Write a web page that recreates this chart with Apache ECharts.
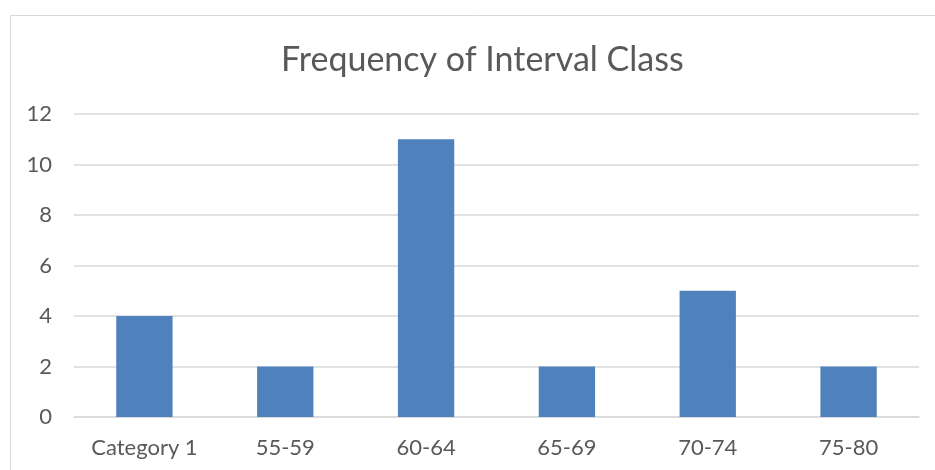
<!DOCTYPE html>
<html>
<head>
<meta charset="utf-8">
<script src="https://cdn.jsdelivr.net/npm/echarts@6/dist/echarts.min.js"></script>
<style>
html,body{margin:0;padding:0;background:#fff;}
#chart{width:935px;height:470px;}
</style>
</head>
<body>
<div id="chart"></div>
<script>
const titleText = "Frequency of Interval Class";
const categories = ["Category 1", "55-59", "60-64", "65-69", "70-74", "75-80"];
const frequencies = [4, 2, 11, 2, 5, 2];
const yTicks = [0, 2, 4, 6, 8, 10, 12];

const chart = echarts.init(document.getElementById('chart'), null, {renderer: 'canvas'});
chart.setOption({
  animation: false,
  backgroundColor: '#ffffff',
  textStyle: {fontFamily: 'Lato'},
  title: {
    text: titleText,
    left: 276,
    top: 38,
    textStyle: {fontFamily: 'Lato', fontSize: 34, fontWeight: 'normal', color: '#595959'}
  },
  graphic: [{
    type: 'rect',
    shape: {x: 10.5, y: 15.5, width: 960, height: 480},
    style: {fill: 'none', stroke: '#d9d9d9', lineWidth: 1},
    silent: true
  }],
  grid: {left: 74, right: 16, top: 114, bottom: 53, containLabel: false},
  xAxis: {
    type: 'category',
    data: categories,
    axisLine: {show: true, lineStyle: {color: '#d9d9d9', width: 1.5}},
    axisTick: {show: false},
    axisLabel: {color: '#595959', fontSize: 22, fontFamily: 'Lato', margin: 20}
  },
  yAxis: {
    type: 'value',
    min: yTicks[0],
    max: yTicks[yTicks.length - 1],
    interval: 2,
    axisLine: {show: false},
    axisTick: {show: false},
    axisLabel: {color: '#595959', fontSize: 22, fontFamily: 'Lato', margin: 22},
    splitLine: {lineStyle: {color: '#d9d9d9', width: 1.5}}
  },
  series: [{
    type: 'bar',
    data: frequencies,
    barWidth: '40%',
    itemStyle: {color: '#4f81bd'}
  }]
});
</script>
</body>
</html>
